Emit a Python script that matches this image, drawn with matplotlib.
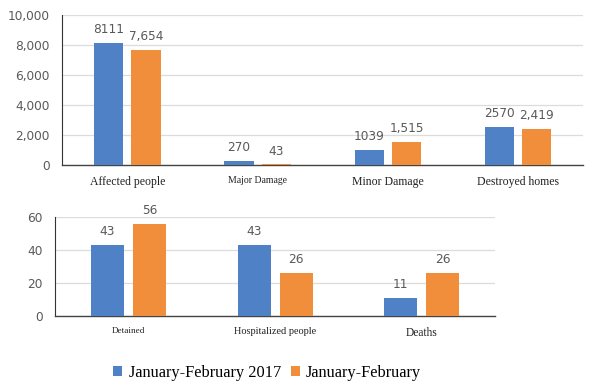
import numpy as np
import matplotlib.pyplot as plt

# data
top_cats = ['Affected people', 'Major Damage', 'Minor Damage', 'Destroyed homes']
top_2017 = [8111, 270, 1039, 2570]
top_2018 = [7654, 43, 1515, 2419]
top_lab_2017 = ['8111', '270', '1039', '2570']
top_lab_2018 = ['7,654', '43', '1,515', '2,419']
top_ticks = [0, 2000, 4000, 6000, 8000, 10000]
top_ticklabels = ['0', '2,000', '4,000', '6,000', '8,000', '10,000']

bot_cats = ['Detained', 'Hospitalized people', 'Deaths']
bot_2017 = [43, 43, 11]
bot_2018 = [56, 26, 26]
bot_ticks = [0, 20, 40, 60]

series_names = ['January-February 2017', 'January-February']

blue = '#4F81C6'
orange = '#F18E3C'
gray = '#595959'

fig = plt.figure(figsize=(5.91, 3.84), dpi=100)
ax1 = fig.add_axes([0.105, 0.570, 0.882, 0.391])
ax2 = fig.add_axes([0.093, 0.177, 0.745, 0.258])


def draw(ax, cats, v1, v2, l1, l2, ticks, ticklabels, cat_sizes):
    x = np.arange(len(cats))
    w = 0.225
    off = 0.143
    b1 = ax.bar(x - off, v1, w, color=blue, zorder=3)
    b2 = ax.bar(x + off, v2, w, color=orange, zorder=3)
    for bars, labs in ((b1, l1), (b2, l2)):
        for b, t in zip(bars, labs):
            ax.annotate(t, (b.get_x() + b.get_width() / 2, b.get_height()),
                        xytext=(0, 5), textcoords='offset points',
                        ha='center', va='bottom', fontsize=8.7, color=gray)
    ax.set_xlim(-0.5, len(cats) - 0.5)
    ax.set_ylim(ticks[0], ticks[-1])
    ax.set_yticks(ticks)
    ax.set_yticklabels(ticklabels, fontsize=8.7, color=gray)
    ax.set_xticks(x)
    ax.set_xticklabels(cats, family='Liberation Serif', color='#222222')
    for lab, s in zip(ax.get_xticklabels(), cat_sizes):
        lab.set_fontsize(s)
    ax.tick_params(axis='both', length=0)
    ax.tick_params(axis='y', pad=9)
    ax.tick_params(axis='x', pad=8)
    ax.grid(axis='y', color='#dcdcdc', linewidth=0.9, zorder=0)
    for s in ('top', 'right'):
        ax.spines[s].set_visible(False)
    ax.spines['left'].set_color('#333333')
    ax.spines['bottom'].set_color('#444444')
    ax.spines['bottom'].set_linewidth(1.0)
    return b1, b2


h1, h2 = draw(ax1, top_cats, top_2017, top_2018, top_lab_2017, top_lab_2018,
              top_ticks, top_ticklabels, [8.5, 7.0, 8.5, 8.5])
draw(ax2, bot_cats, bot_2017, bot_2018,
     [str(v) for v in bot_2017], [str(v) for v in bot_2018],
     bot_ticks, [str(t) for t in bot_ticks], [6.6, 7.4, 8.3])

fig.legend([h1, h2], series_names, loc='center', bbox_to_anchor=(0.452, 0.029),
           ncol=2, frameon=False, prop={'family': 'Liberation Serif', 'size': 11.8},
           handlelength=0.55, handleheight=0.55, handletextpad=0.4, columnspacing=0.6)

fig.savefig('out.png', dpi=100)
